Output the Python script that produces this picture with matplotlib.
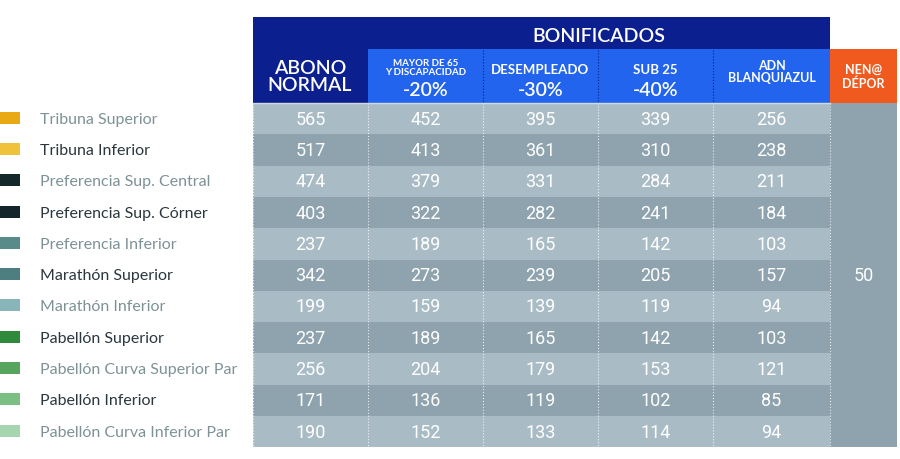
import matplotlib.pyplot as plt
from matplotlib.patches import Rectangle

# Datos de la tabla
zonas = ["Tribuna Superior", "Tribuna Inferior", "Preferencia Sup. Central",
         "Preferencia Sup. Córner", "Preferencia Inferior", "Marathón Superior",
         "Marathón Inferior", "Pabellón Superior", "Pabellón Curva Superior Par",
         "Pabellón Inferior", "Pabellón Curva Inferior Par"]
colores_zona = ["#e8a912", "#f0c23a", "#14272b", "#13252a", "#588b89", "#4d7f80",
                "#87b5ba", "#2f8a3c", "#55a55f", "#7bbf85", "#a6d6b0"]
abono_normal = [565, 517, 474, 403, 237, 342, 199, 237, 256, 171, 190]
mayor_65 = [452, 413, 379, 322, 189, 273, 159, 189, 204, 136, 152]
desempleado = [395, 361, 331, 282, 165, 239, 139, 165, 179, 119, 133]
sub_25 = [339, 310, 284, 241, 142, 205, 119, 142, 153, 102, 114]
adn = [256, 238, 211, 184, 103, 157, 94, 103, 121, 85, 94]
nen_depor = 50

columnas = [abono_normal, mayor_65, desempleado, sub_25, adn]
cabeceras = [("MAYOR DE 65\nY DISCAPACIDAD", "-20%"), ("DESEMPLEADO", "-30%"),
             ("SUB 25", "-40%"), ("ADN\nBLANQUIAZUL", "")]

fig = plt.figure(figsize=(9, 4.6), dpi=100)
ax = fig.add_axes([0, 0, 1, 1])
ax.set_xlim(0, 900)
ax.set_ylim(460, 0)
ax.axis("off")

font = "Lato"
xs = [253, 368, 483, 598, 713, 830, 897]
top_rows = 104
row_h = 31.3
n = len(zonas)

# cabecera
ax.add_patch(Rectangle((253, 18), 830 - 253, 86, color="#0b1f8e", lw=0))
ax.add_patch(Rectangle((368, 50), 830 - 368, 54, color="#2264ee", lw=0))
ax.add_patch(Rectangle((830, 50), 897 - 830, 54, color="#f05a1e", lw=0))
ax.text((368 + 830) / 2, 36, "BONIFICADOS", color="white", fontsize=14,
        ha="center", va="center", family=font, fontweight="semibold")
ax.text(310, 77, "ABONO\nNORMAL", color="white", fontsize=14, ha="center",
        va="center", family=font, fontweight="semibold", linespacing=1.05)
for i, (t, pct) in enumerate(cabeceras):
    cx = (xs[i + 1] + xs[i + 2]) / 2
    if i == 0:
        ax.text(cx, 68, t, color="white", fontsize=7, ha="center", va="center",
                family=font, fontweight="bold", linespacing=1.1)
    elif pct:
        ax.text(cx, 70, t, color="white", fontsize=9.5, ha="center", va="center",
                family=font, fontweight="bold")
    else:
        ax.text(cx, 72, t, color="white", fontsize=9, ha="center", va="center",
                family=font, fontweight="bold", linespacing=1.1)
    if pct:
        ax.text(cx, 90, pct, color="white", fontsize=14, ha="center",
                va="center", family=font, fontweight="semibold")
    if i > 0:
        ax.plot([xs[i + 1], xs[i + 1]], [51, 104], color="#0b1f8e", lw=0.8, ls=":")
ax.text((830 + 897) / 2, 77, "NEN@\nDÉPOR", color="white", fontsize=9,
        ha="center", va="center", family=font, fontweight="bold", linespacing=1.2)

# filas
for r in range(n):
    y0 = top_rows + r * row_h
    cy = y0 + row_h / 2
    fondo = "#a9bcc5" if r % 2 == 0 else "#8ea3ae"
    ax.add_patch(Rectangle((253, y0), 830 - 253, row_h, color=fondo, lw=0))
    for c, col in enumerate(columnas):
        cx = (xs[c] + xs[c + 1]) / 2
        ax.text(cx, cy, str(col[r]), color="white", fontsize=13, ha="center",
                va="center", family="Roboto")
    ax.add_patch(Rectangle((0, cy - 7), 20, 12, color=colores_zona[r], lw=0))
    ax.text(40, cy, zonas[r], color="#7d9296" if r % 2 == 0 else "#2a383d",
            fontsize=11.5, ha="left", va="center", family=font)

bottom = top_rows + n * row_h
ax.add_patch(Rectangle((830, top_rows), 897 - 830, bottom - top_rows,
                       color="#8ea3ae", lw=0))
ax.text((830 + 897) / 2, (top_rows + bottom) / 2, str(nen_depor), color="white",
        fontsize=13, ha="center", va="center", family="Roboto")
for x in xs[:-1]:
    ax.plot([x, x], [top_rows, bottom], color="white", lw=0.8, ls=":", alpha=0.8)
ax.plot([253, 897], [bottom, bottom], color="white", lw=0.8, ls=":")
ax.plot([253, 830], [top_rows, top_rows], color="#cfdbe0", lw=1)

fig.savefig("out.png", dpi=100)
